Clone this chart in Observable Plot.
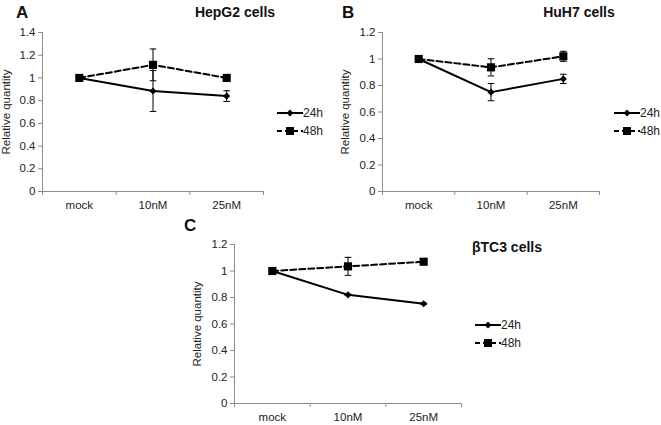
<!DOCTYPE html>
<html>
<head>
<meta charset="utf-8">
<script src="https://cdn.jsdelivr.net/npm/d3@7"></script>
<script src="https://cdn.jsdelivr.net/npm/@observablehq/plot@0.6"></script>
<style>
  body { margin: 0; background: #fff; }
  #root { position: relative; width: 661px; height: 425px; overflow: hidden; font-family: "Liberation Sans", Arial, sans-serif; color: #111; }
  #root svg.panel { position: absolute; background: transparent !important; overflow: visible; }
  .txt { position: absolute; white-space: nowrap; line-height: 1; }
  .title { font-weight: bold; font-size: 14px; transform: translate(-50%, -50%); }
  .letter { font-weight: bold; font-size: 17px; transform: translate(0, -50%); }
  .ylab { font-size: 11.5px; color: #222; transform: translate(-50%, -50%) rotate(-90deg); }
  .leg { position: absolute; display: flex; align-items: center; font-size: 12px; transform: translate(0, -50%); color: #222; }
  g[aria-label="y-axis tick"], g[aria-label="x-axis tick"] { stroke: #8c8c8c; }
</style>
</head>
<body>
<div id="root"></div>
<script>
// ---- data ----
const categories = ["mock", "10nM", "25nM"];
const seriesNames = ["24h", "48h"];

const hepg2_24 = [1, 0.885, 0.84];
const hepg2_24_err = [0.005, 0.18, 0.047];
const hepg2_48 = [1, 1.115, 1.0];
const hepg2_48_err = [0.005, 0.14, 0.01];

const huh7_24 = [1, 0.75, 0.85];
const huh7_24_err = [0.005, 0.065, 0.035];
const huh7_48 = [1, 0.937, 1.02];
const huh7_48_err = [0.005, 0.065, 0.038];

const btc3_24 = [1, 0.82, 0.753];
const btc3_24_err = [0.005, 0.005, 0.005];
const btc3_48 = [1, 1.035, 1.07];
const btc3_48_err = [0.005, 0.068, 0.012];

const ticksA = [0, 0.2, 0.4, 0.6, 0.8, 1, 1.2, 1.4];
const ticksBC = [0, 0.2, 0.4, 0.6, 0.8, 1, 1.2];

const panelTitles = ["HepG2 cells", "HuH7 cells", "\u03B2TC3 cells"];
const panelLetters = ["A", "B", "C"];
const yLabel = "Relative quantity";

// ---- helpers ----
const root = document.getElementById("root");

function rows(values, errs) {
  return categories.map((c, i) => ({cat: c, x: i + 0.5, y: values[i], lo: values[i] - errs[i], hi: values[i] + errs[i]}));
}

function panel(p) {
  const r24 = rows(p.s24, p.e24);
  const r48 = rows(p.s48, p.e48);
  const all = r24.concat(r48);
  const cap = 0.045;
  const fmt = d => String(+d.toFixed(1));
  const svg = Plot.plot({
    width: p.w, height: p.h,
    marginLeft: p.ml, marginRight: p.mr, marginTop: p.mt, marginBottom: p.mb,
    style: {fontFamily: "Liberation Sans, Arial, sans-serif", fontSize: "11.5px", color: "#222", background: "transparent"},
    x: {domain: [0, categories.length], axis: null},
    y: {domain: [0, p.yMax], axis: null},
    marks: [
      Plot.ruleX([0], {stroke: "#8c8c8c"}),
      Plot.ruleY([0], {stroke: "#8c8c8c"}),
      Plot.axisY({ticks: p.ticks, tickSize: 4, tickPadding: 3, tickFormat: fmt, label: null}),
      Plot.axisX({ticks: d3.range(categories.length + 1), tickSize: 4, tickFormat: () => "", label: null}),
      Plot.axisX({ticks: categories.map((c, i) => i + 0.5), tickSize: 0, tickPadding: 9, tickFormat: d => categories[Math.floor(d)], label: null}),
      Plot.line(r24, {x: "x", y: "y", stroke: "#000", strokeWidth: 2}),
      Plot.line(r48, {x: "x", y: "y", stroke: "#000", strokeWidth: 2, strokeDasharray: "6,3"}),
      Plot.ruleX(all, {x: "x", y1: "lo", y2: "hi", stroke: "#000", strokeWidth: 1}),
      Plot.link(all, {x1: d => d.x - cap, x2: d => d.x + cap, y1: "hi", y2: "hi", stroke: "#000", strokeWidth: 1}),
      Plot.link(all, {x1: d => d.x - cap, x2: d => d.x + cap, y1: "lo", y2: "lo", stroke: "#000", strokeWidth: 1}),
      Plot.dot(r24, {x: "x", y: "y", symbol: "diamond2", r: 3.2, fill: "#000", stroke: "none"}),
      Plot.dot(r48, {x: "x", y: "y", symbol: "square", r: 4.6, fill: "#000", stroke: "none"})
    ]
  });
  svg.classList.add("panel");
  svg.style.left = p.left + "px";
  svg.style.top = p.top + "px";
  root.appendChild(svg);

  addText(p.title, "title", p.titleX, p.titleY);
  addText(p.letter, "letter", p.letterX, p.letterY);
  addText(yLabel, "ylab", p.ylabX, p.top + p.mt + (p.h - p.mt - p.mb) / 2);
  addLegend(p.legX, p.legY, seriesNames[0], false);
  addLegend(p.legX, p.legY + 18, seriesNames[1], true);
}

function addText(t, cls, x, y) {
  const d = document.createElement("div");
  d.className = "txt " + cls;
  d.textContent = t;
  d.style.left = x + "px";
  d.style.top = y + "px";
  root.appendChild(d);
}

function addLegend(x, y, label, dashed) {
  const d = document.createElement("div");
  d.className = "leg";
  d.style.left = x + "px";
  d.style.top = y + "px";
  const ns = "http://www.w3.org/2000/svg";
  const s = document.createElementNS(ns, "svg");
  s.setAttribute("width", 26); s.setAttribute("height", 10);
  const l = document.createElementNS(ns, "line");
  l.setAttribute("x1", 0); l.setAttribute("x2", 26); l.setAttribute("y1", 5); l.setAttribute("y2", 5);
  l.setAttribute("stroke", "#000"); l.setAttribute("stroke-width", 2);
  if (dashed) l.setAttribute("stroke-dasharray", "5,3");
  s.appendChild(l);
  if (dashed) {
    const r = document.createElementNS(ns, "rect");
    r.setAttribute("x", 9); r.setAttribute("y", 1); r.setAttribute("width", 8); r.setAttribute("height", 8);
    s.appendChild(r);
  } else {
    const pth = document.createElementNS(ns, "path");
    pth.setAttribute("d", "M13,1.5L16.5,5L13,8.5L9.5,5Z");
    s.appendChild(pth);
  }
  d.appendChild(s);
  const sp = document.createElement("span");
  sp.textContent = label;
  d.appendChild(sp);
  root.appendChild(d);
}

// ---- panels ----
panel({left: 0, top: 0, w: 330, h: 215, ml: 42, mr: 67, mt: 32, mb: 24, yMax: 1.4, ticks: ticksA,
  s24: hepg2_24, e24: hepg2_24_err, s48: hepg2_48, e48: hepg2_48_err,
  title: panelTitles[0], titleX: 235, titleY: 12, letter: panelLetters[0], letterX: 16, letterY: 12,
  ylabX: 7, legX: 277, legY: 113});

panel({left: 330, top: 0, w: 331, h: 215, ml: 52, mr: 62, mt: 32, mb: 24, yMax: 1.2, ticks: ticksBC,
  s24: huh7_24, e24: huh7_24_err, s48: huh7_48, e48: huh7_48_err,
  title: panelTitles[1], titleX: 579, titleY: 12, letter: panelLetters[1], letterX: 342, letterY: 12,
  ylabX: 346, legX: 614, legY: 113});

panel({left: 170, top: 210, w: 330, h: 215, ml: 64, mr: 39, mt: 34, mb: 22, yMax: 1.2, ticks: ticksBC,
  s24: btc3_24, e24: btc3_24_err, s48: btc3_48, e48: btc3_48_err,
  title: panelTitles[2], titleX: 507, titleY: 247, letter: panelLetters[2], letterX: 184, letterY: 225,
  ylabX: 198, legX: 475, legY: 325});
</script>
</body>
</html>
